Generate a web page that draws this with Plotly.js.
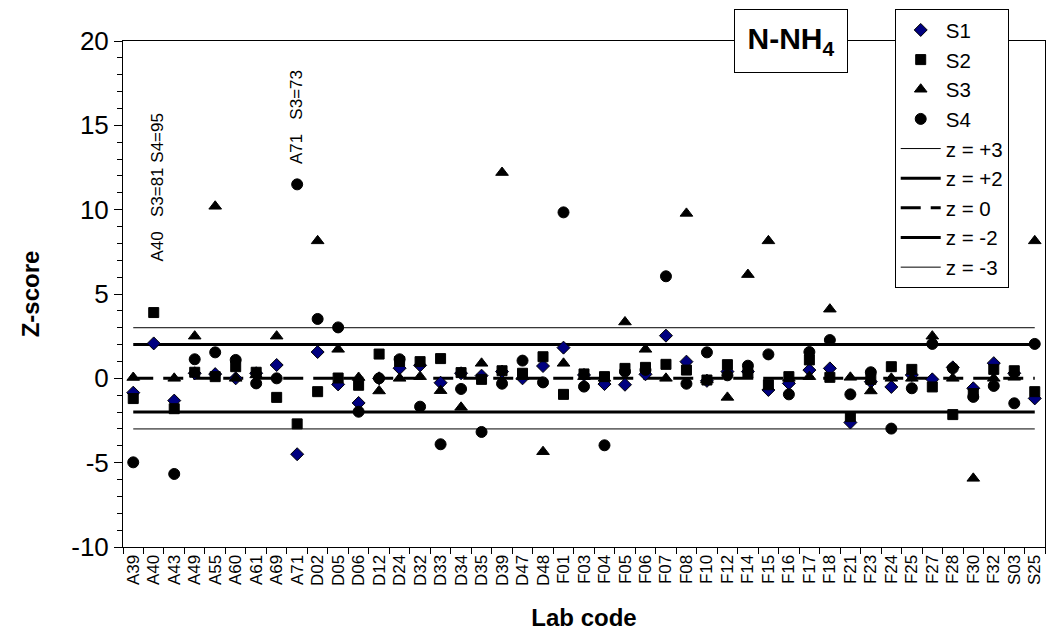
<!DOCTYPE html>
<html>
<head>
<meta charset="utf-8">
<script src="https://cdn.plot.ly/plotly-3.0.1.min.js"></script>
<style>html,body{margin:0;padding:0;background:#fff;}#chart{width:1048px;height:639px;}</style>
</head>
<body>
<div id="chart"></div>
<script>
const labCodes = ["A39","A40","A43","A49","A55","A60","A61","A69","A71","D02","D05","D06","D12","D24","D32","D33","D34","D35","D39","D47","D48","F01","F03","F04","F05","F06","F07","F08","F10","F12","F14","F15","F16","F17","F18","F21","F23","F24","F25","F27","F28","F30","F32","S03","S25"];

const s1 = [-0.85,2.07,-1.32,0.3,0.25,0.0,0.3,0.79,-4.5,1.56,-0.36,-1.46,0.0,0.6,0.77,-0.26,0.3,0.16,0.4,0.0,0.73,1.82,0.2,-0.34,-0.38,0.24,2.53,0.99,-0.15,0.4,0.4,-0.69,-0.3,0.49,0.59,-2.62,-0.2,-0.51,0.2,-0.06,0.65,-0.59,0.9,0.3,-1.19];
const s2 = [-1.2,3.9,-1.8,0.36,0.1,0.69,0.36,-1.13,-2.7,-0.79,0.02,-0.41,1.44,1.0,0.99,1.17,0.34,-0.06,0.45,0.3,1.28,-0.95,0.26,0.1,0.59,0.65,0.83,0.49,-0.1,0.81,0.3,-0.38,0.1,1.09,0.06,-2.27,-0.06,0.69,0.53,-0.51,-2.15,-0.9,0.53,0.45,-0.79];
const s3 = [0.05,81,0.0,2.5,10.2,0.0,0.2,2.5,73,8.15,1.72,0.05,-0.75,0.0,0.1,-0.73,-1.72,0.89,12.2,0.1,-4.35,0.89,0.1,0.0,3.34,1.72,0.0,9.78,-0.1,-1.13,6.15,8.15,0.0,0.1,4.1,0.06,-0.75,0.0,0.0,2.5,0.0,-5.93,0.0,0.06,8.15];
const s4 = [-4.98,95,-5.67,1.13,1.54,1.09,-0.3,0.0,11.5,3.52,3.02,-1.98,0.0,1.13,-1.68,-3.91,-0.63,-3.18,-0.32,1.05,-0.24,9.84,-0.49,-3.97,0.4,0.5,6.05,-0.32,1.54,0.18,0.75,1.42,-0.95,1.56,2.27,-0.95,0.36,-2.98,-0.59,2.04,0.6,-1.1,-0.45,-1.48,2.04];

const yTickVals = [-10, -5, 0, 5, 10, 15, 20];
const yTickText = ["-10", "-5", "0", "5", "10", "15", "20"];

const zLevels = [3, 2, 0, -2, -3];
const zNames = ["z = +3", "z = +2", "z = 0", "z = -2", "z = -3"];
const zWidths = [1, 3, 3, 3, 1];
const zDash = ["solid", "solid", "20px,10px", "solid", "solid"];

const seriesNames = ["S1", "S2", "S3", "S4"];
const seriesSymbols = ["diamond", "square", "triangle-up", "circle"];
const seriesColors = ["#000080", "#000000", "#000000", "#000000"];
const seriesSizes = [10, 10, 11, 11];
const seriesData = [s1, s2, s3, s4];

const FONT = "Arial, 'Liberation Sans', sans-serif";
const traces = [];

zLevels.forEach((lvl, i) => {
  traces.push({
    type: "scatter", mode: "lines", name: zNames[i],
    x: labCodes, y: labCodes.map(() => lvl),
    line: {color: "#000", width: zWidths[i], dash: zDash[i]},
    legendrank: 5 + i, hoverinfo: "skip"
  });
});

seriesData.forEach((d, i) => {
  traces.push({
    type: "scatter", mode: "markers", name: seriesNames[i],
    x: labCodes, y: d,
    marker: {symbol: seriesSymbols[i], color: seriesColors[i], size: seriesSizes[i], line: {color: "#000", width: 1}},
    legendrank: 1 + i, cliponaxis: true
  });
});

const layout = {
  width: 1048, height: 639,
  margin: {l: 123, r: 3, t: 41, b: 92},
  paper_bgcolor: "#fff", plot_bgcolor: "#fff",
  font: {family: FONT, color: "#000"},
  showlegend: true,
  legend: {
    x: 0.837, y: 1.063, xanchor: "left", yanchor: "top",
    bgcolor: "#fff", bordercolor: "#000", borderwidth: 1,
    font: {family: FONT, size: 20.5, color: "#000"},
    itemwidth: 40,
    traceorder: "normal", tracegroupgap: 0
  },
  xaxis: {
    type: "category", range: [-0.5, 44.5],
    showline: true, linecolor: "#000", linewidth: 1, mirror: true,
    ticks: "outside", ticklen: 6, tickcolor: "#000", tickson: "boundaries",
    tickangle: -90, tickfont: {family: FONT, size: 17},
    showgrid: false, zeroline: false,
    title: {text: "<b>Lab code</b>", font: {family: FONT, size: 24}, standoff: 24}
  },
  yaxis: {
    range: [-10, 20], tickmode: "array", tickvals: yTickVals, ticktext: yTickText,
    showline: true, linecolor: "#000", linewidth: 1, mirror: true,
    ticks: "outside", ticklen: 8, tickcolor: "#000",
    minor: {dtick: 1, tick0: 0, ticks: "outside", ticklen: 5, tickcolor: "#000"},
    tickfont: {family: FONT, size: 26},
    showgrid: false, zeroline: false,
    title: {text: "<b>Z-score</b>", font: {family: FONT, size: 24}, standoff: 24}
  },
  annotations: [
    {xref: "x", yref: "y", x: "A40", y: 11.3, xshift: 4, textangle: -90, showarrow: false,
     text: "A40\u00a0\u00a0 S3=81 S4=95", font: {family: FONT, size: 17}},
    {xref: "x", yref: "y", x: "A71", y: 15.5, textangle: -90, showarrow: false,
     text: "A71\u00a0\u00a0 S3=73", font: {family: FONT, size: 17}},
    {xref: "paper", yref: "paper", x: 0.7245, y: 1.0, xanchor: "center", yanchor: "middle",
     showarrow: false, text: "<b>N-NH<sub>4</sub></b>", font: {family: FONT, size: 30},
     bgcolor: "#fff", bordercolor: "#000", borderwidth: 1, borderpad: 4, width: 104, height: 54}
  ]
};

Plotly.newPlot("chart", traces, layout, {staticPlot: true, displayModeBar: false});
</script>
</body>
</html>
